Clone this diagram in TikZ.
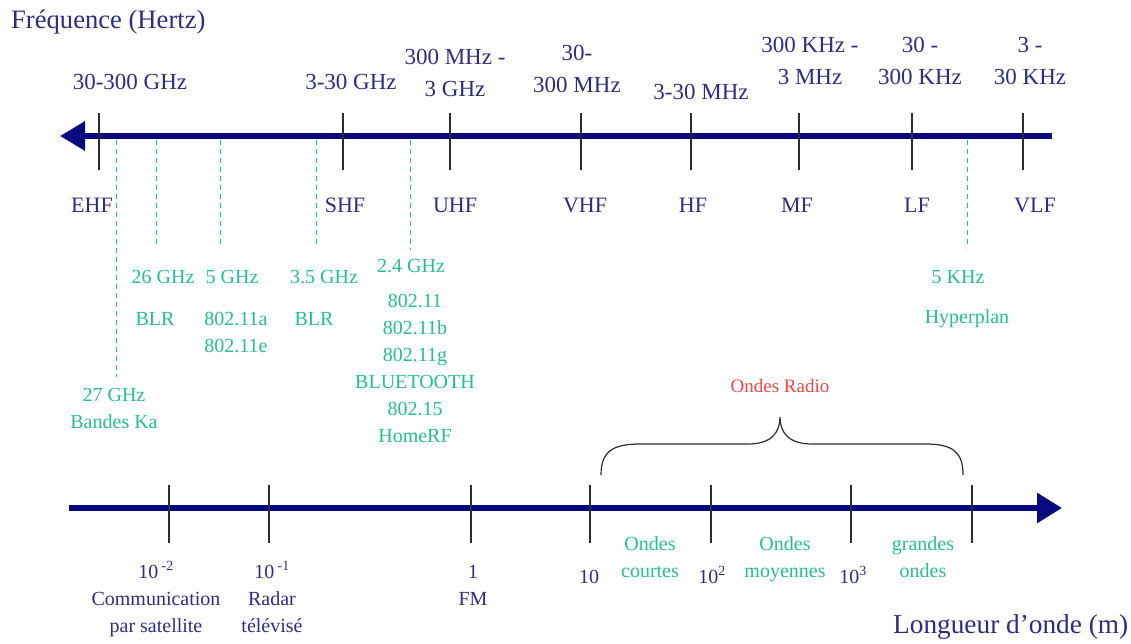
\documentclass[tikz,border=0pt]{standalone}
\usepackage{fontspec}
\setmainfont{Liberation Serif}
\usetikzlibrary{arrows.meta}
\definecolor{navy}{RGB}{10,10,128}
\definecolor{bluetxt}{RGB}{45,45,135}
\definecolor{greentxt}{RGB}{35,192,145}
\definecolor{redtxt}{RGB}{240,70,70}
\definecolor{tickcol}{RGB}{45,45,45}
\begin{document}
\begin{tikzpicture}[x=1pt,y=-1pt,
  axisline/.style={line width=6pt, draw=navy},
  tickline/.style={line width=1.3pt, draw=tickcol},
  dashline/.style={line width=1pt, draw=greentxt, dash pattern=on 5pt off 4pt},
  lbl/.style={inner sep=0pt, anchor=base, align=center},
  freq/.style={lbl, text=bluetxt, font=\fontsize{23}{32}\selectfont},
  band/.style={lbl, text=bluetxt, font=\fontsize{22}{26}\selectfont},
  app/.style={lbl, text=greentxt, font=\fontsize{20}{27}\selectfont},
  wl/.style={lbl, text=bluetxt, font=\fontsize{20}{27}\selectfont},
  ttl/.style={inner sep=0pt, anchor=base west, text=bluetxt, font=\fontsize{26.6}{30}\selectfont},
]
\useasboundingbox (0,0) rectangle (1131,644);

% titles
\node[ttl] (ftitle) at (11,28.5) {Fréquence (Hertz)};
\node[ttl, font=\fontsize{27.3}{30}\selectfont] (ltitle) at (893,633) {Longueur d’onde (m)};

% top axis
\coordinate (tR) at (1052,136);
\coordinate (tL) at (60,136);
\draw[axisline, -{Triangle[length=25pt,width=28pt]}] (tR) -- (tL);
\foreach \n/\x in {ehf/99,shf/343,uhf/450,vhf/581,hf/691,mf/799,lf/912,vlf/1023}{
  \coordinate (\n t) at (\x,113);
  \coordinate (\n b) at (\x,170);
  \draw[tickline] (\n t) -- (\n b);
}

% dashed markers
\foreach \n/\x/\y in {ka/116/377,g26/156/248,g5/220/248,g35/316/248,g24/410/250,k5/967/248}{
  \coordinate (\n t) at (\x,140);
  \coordinate (\n b) at (\x,\y);
  \draw[dashline] (\n t) -- (\n b);
}

% frequency ranges (base = baseline of last line)
\node[freq] (f1) at (130,90) {30-300 GHz};
\node[freq] (f2) at (351,90) {3-30 GHz};
\node[freq] (f3) at (455,97) {300 MHz -\\3 GHz};
\node[freq] (f4) at (577,93) {30-\\300 MHz};
\node[freq] (f5) at (701,100) {3-30 MHz};
\node[freq] (f6) at (810,85) {300 KHz -\\3 MHz};
\node[freq] (f7) at (920,85) {30 -\\300 KHz};
\node[freq] (f8) at (1030,85) {3 -\\30 KHz};

% band names
\node[band] (bEHF) at (92,213) {EHF};
\node[band] (bSHF) at (345,213) {SHF};
\node[band] (bUHF) at (455,213) {UHF};
\node[band] (bVHF) at (585,213) {VHF};
\node[band] (bHF) at (693,213) {HF};
\node[band] (bMF) at (797,213) {MF};
\node[band] (bLF) at (917,213) {LF};
\node[band] (bVLF) at (1035,213) {VLF};

% applications (green)
\node[app] (a26) at (163,283) {26 GHz};
\node[app] (a26b) at (155,325) {BLR};
\node[app] (a5) at (232,283) {5 GHz};
\node[app] (a5b) at (236,352) {802.11a\\802.11e};
\node[app] (a35) at (324,283) {3.5 GHz};
\node[app] (a35b) at (314,325) {BLR};
\node[app] (a24) at (411,272) {2.4 GHz};
\node[app] (a24b) at (415,442) {802.11\\802.11b\\802.11g\\BLUETOOTH\\802.15\\HomeRF};
\node[app] (a27) at (114,428) {27 GHz\\Bandes Ka};
\node[app] (ak5) at (958,283) {5 KHz};
\node[app] (ak5b) at (967,323) {Hyperplan};

% bottom axis
\coordinate (bL) at (69,508);
\coordinate (bR) at (1062,508);
\draw[axisline, -{Triangle[length=25pt,width=29pt]}] (bL) -- (bR);
\foreach \n/\x in {w1/169,w2/269,w3/471,w4/590,w5/711,w6/851,w7/972}{
  \coordinate (\n t) at (\x,485);
  \coordinate (\n b) at (\x,543);
  \draw[tickline] (\n t) -- (\n b);
}

% wavelength labels
\node[wl] (l1) at (156,632) {10\,\textsuperscript{-2}\\Communication\\par satellite};
\node[wl] (l2) at (272,632) {10\,\textsuperscript{-1}\\Radar\\télévisé};
\node[wl] (l3) at (473,605) {1\\FM};
\node[wl] (l4) at (589,583) {10};
\node[wl] (l5) at (712,583) {10\textsuperscript{2}};
\node[wl] (l6) at (853,583) {10\textsuperscript{3}};
\node[app] (o1) at (650,577) {Ondes\\courtes};
\node[app] (o2) at (785,577) {Ondes\\moyennes};
\node[app] (o3) at (923,577) {grandes\\ondes};

% brace
\coordinate (brL) at (601,475);
\coordinate (brM) at (780,417);
\coordinate (brR) at (963,475);
\draw[line width=1.2pt, draw=tickcol]
  (brL) .. controls (601,452) and (612,444) .. (640,444) -- (748,444)
  .. controls (772,444) and (780,432) .. (brM)
  .. controls (780,432) and (788,444) .. (812,444) -- (925,444)
  .. controls (953,444) and (963,452) .. (brR);
\node[lbl, text=redtxt, font=\fontsize{19}{23}\selectfont] (radio) at (780,392) {Ondes Radio};
\end{tikzpicture}
\end{document}
